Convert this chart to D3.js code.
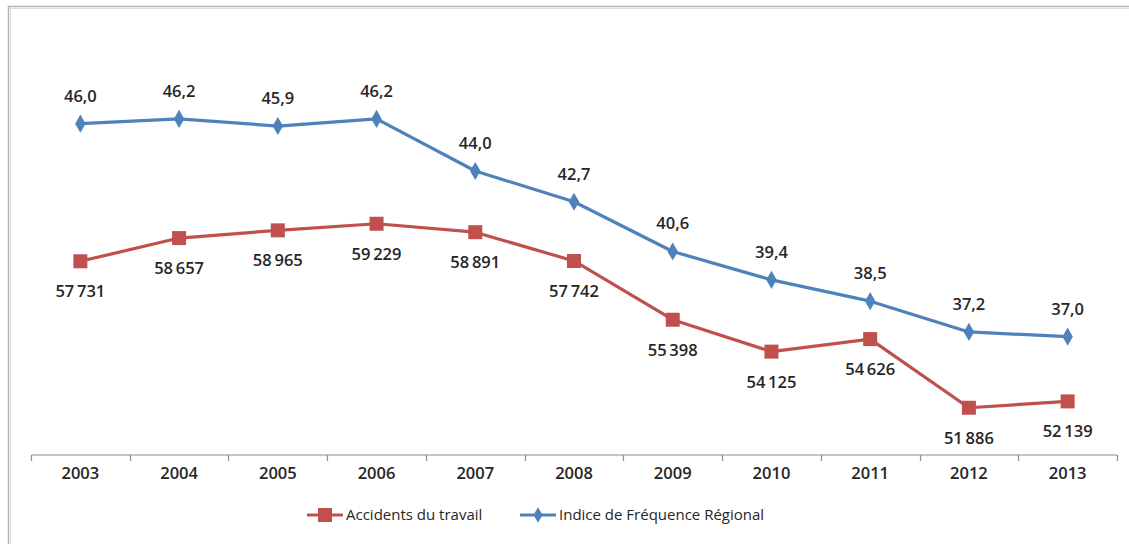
<!DOCTYPE html>
<html><head><meta charset="utf-8">
<script src="https://cdn.jsdelivr.net/npm/d3@7"></script>
<style>
html,body{margin:0;padding:0;background:#fff;}
svg{display:block;font-family:"Open Sans","Noto Sans",sans-serif;}
</style></head>
<body><svg id="c" width="1129" height="544"></svg>
<script>
const years = ["2003","2004","2005","2006","2007","2008","2009","2010","2011","2012","2013"];
const accidents = [57731,58657,58965,59229,58891,57742,55398,54125,54626,51886,52139];
const indice = [46.0,46.2,45.9,46.2,44.0,42.7,40.6,39.4,38.5,37.2,37.0];
const seriesNames = ["Accidents du travail","Indice de Fréquence Régional"];
const colors = ["#C0504D","#4F81BD"];

const svg = d3.select("#c");
const loc = d3.formatLocale({decimal:",", thousands:"\u2009", grouping:[3], currency:["","€"]});
const fmtInt = loc.format(",d");
const fmtDec = loc.format(".1f");
const textCol = "#262626";

// frame
svg.append("rect").attr("x",8.5).attr("y",6.5).attr("width",1140).attr("height",560)
  .attr("fill","none").attr("stroke","#b4b4b4").attr("stroke-width",1.5);
svg.append("rect").attr("x",10.5).attr("y",8.5).attr("width",1140).attr("height",560)
  .attr("fill","none").attr("stroke","#dcdcdc").attr("stroke-width",1);

const x = d3.scaleBand().domain(years).range([31,1117]);
const yB = d3.scaleLinear().domain([32,50]).range([455,29]);
const yR = d3.scaleLinear().domain([50000,67000]).range([455,29]);

// axis
const ax = svg.append("g").attr("transform","translate(0,455)")
  .call(d3.axisBottom(x).tickSize(0).tickPadding(12));
ax.select(".domain").attr("stroke","#8c8c8c").attr("stroke-width",1.2).attr("d","M31.5,0H1117.5");
ax.selectAll(".tick text").attr("font-size",16.5).attr("font-weight",600).attr("fill",textCol)
  .attr("font-family","'Open Sans',sans-serif");
const bounds = years.map(y=>x(y)).concat([x(years[years.length-1])+x.bandwidth()]);
svg.append("g").selectAll("line").data(bounds).join("line")
  .attr("x1",d=>Math.round(d)+0.5).attr("x2",d=>Math.round(d)+0.5)
  .attr("y1",455).attr("y2",461).attr("stroke","#8c8c8c").attr("stroke-width",1.2);

const cx = d => x(d)+x.bandwidth()/2;

// blue series
const lineB = d3.line().x((d,i)=>cx(years[i])).y(d=>yB(d));
svg.append("path").datum(indice).attr("d",lineB).attr("fill","none")
  .attr("stroke",colors[1]).attr("stroke-width",3.2).attr("stroke-linejoin","round");
svg.append("g").selectAll("path").data(indice).join("path")
  .attr("transform",(d,i)=>`translate(${cx(years[i])},${yB(d)})`)
  .attr("d",d3.symbol(d3.symbolDiamond,95)())
  .attr("fill",colors[1]);
svg.append("g").selectAll("text").data(indice).join("text")
  .attr("x",(d,i)=>cx(years[i])).attr("y",d=>yB(d)-22)
  .attr("text-anchor","middle").attr("font-size",16.5).attr("font-weight",600).attr("fill",textCol)
  .text(d=>fmtDec(d));

// red series
const lineR = d3.line().x((d,i)=>cx(years[i])).y(d=>yR(d));
svg.append("path").datum(accidents).attr("d",lineR).attr("fill","none")
  .attr("stroke",colors[0]).attr("stroke-width",3.2).attr("stroke-linejoin","round");
svg.append("g").selectAll("rect").data(accidents).join("rect")
  .attr("x",(d,i)=>cx(years[i])-7).attr("y",d=>yR(d)-7)
  .attr("width",14).attr("height",14).attr("fill",colors[0]);
svg.append("g").selectAll("text").data(accidents).join("text")
  .attr("x",(d,i)=>cx(years[i])).attr("y",d=>yR(d)+36)
  .attr("text-anchor","middle").attr("font-size",16.5).attr("font-weight",600).attr("fill",textCol)
  .text(d=>fmtInt(d));

// legend
const lg = svg.append("g");
const items = [{x:307, w:36, name:seriesNames[0], c:colors[0], m:"sq"},{x:520, w:36, name:seriesNames[1], c:colors[1], m:"di"}];
items.forEach(it=>{
  lg.append("line").attr("x1",it.x).attr("x2",it.x+it.w).attr("y1",515).attr("y2",515)
    .attr("stroke",it.c).attr("stroke-width",3.2);
  if(it.m==="sq") lg.append("rect").attr("x",it.x+it.w/2-7).attr("y",508).attr("width",14).attr("height",14).attr("fill",it.c);
  else lg.append("path").attr("transform",`translate(${it.x+it.w/2},515)`).attr("d",d3.symbol(d3.symbolDiamond,70)()).attr("fill",it.c);
  lg.append("text").attr("x",it.x+it.w+3).attr("y",520).attr("font-size",15).attr("fill",textCol).text(it.name);
});
</script></body></html>
